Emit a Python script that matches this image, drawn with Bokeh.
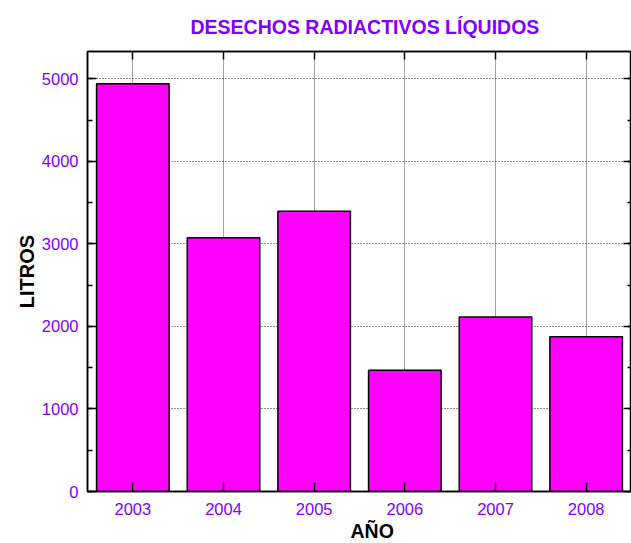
from bokeh.plotting import figure
from bokeh.models import (ColumnDataSource, FactorRange, Range1d, CategoricalAxis,
                          LinearAxis, SingleIntervalTicker, Title)
from bokeh.embed import file_html
from bokeh.resources import INLINE

# ---- data ----
years = ["2003", "2004", "2005", "2006", "2007", "2008"]
litros = [4940, 3075, 3395, 1470, 2115, 1875]
y_max = 5330
y_tick_interval = 1000

title_text = "DESECHOS RADIACTIVOS LÍQUIDOS"
x_label = "AÑO"
y_label = "LITROS"

PURPLE = "#8000ff"
FONT = "Liberation Sans"

src = ColumnDataSource(dict(year=years, litros=litros))

p = figure(x_range=FactorRange(factors=years), y_range=Range1d(0, y_max),
           width=631, height=543, output_backend="svg", toolbar_location=None,
           min_border_left=87, min_border_right=0, min_border_top=50, min_border_bottom=52)

p.background_fill_color = "white"
p.border_fill_color = "white"
p.outline_line_color = "black"
p.outline_line_width = 1.5

# title
p.title.text = title_text
p.title.align = "left"
p.title.offset = 103
p.title.text_font = FONT
p.title.text_font_size = "19.5px"
p.title.text_font_style = "bold"
p.title.text_color = PURPLE
p.title.standoff = 27

# bars
p.vbar(x="year", top="litros", width=0.8, source=src,
       fill_color="#ff00ff", line_color="black", line_width=1.5)

# grids
p.xgrid.grid_line_color = "#444444"
p.xgrid.grid_line_dash = "1 1"
p.xgrid.grid_line_width = 1
p.ygrid.ticker = SingleIntervalTicker(interval=y_tick_interval)
p.ygrid.grid_line_color = "#222222"
p.ygrid.grid_line_dash = "1 2"
p.ygrid.grid_line_width = 1

# bottom axis
xa = p.xaxis[0]
xa.major_tick_in = 9
xa.major_tick_out = 0
xa.axis_line_width = 1.5
xa.major_tick_line_width = 1.5
xa.major_label_text_font = FONT
xa.major_label_text_font_size = "16.5px"
xa.major_label_text_color = PURPLE
xa.major_label_standoff = 11

# left axis
ya = p.yaxis[0]
ya.ticker = SingleIntervalTicker(interval=y_tick_interval, num_minor_ticks=2)
ya.major_tick_in = 9
ya.major_tick_out = 0
ya.minor_tick_in = 5
ya.minor_tick_out = 0
ya.axis_line_width = 1.5
ya.major_tick_line_width = 1.5
ya.minor_tick_line_width = 1.5
ya.major_label_text_font = FONT
ya.major_label_text_font_size = "16.5px"
ya.major_label_text_color = PURPLE
ya.major_label_standoff = 9
ya.axis_label = y_label
ya.axis_label_text_font = FONT
ya.axis_label_text_font_size = "20px"
ya.axis_label_text_font_style = "bold"
ya.axis_label_text_color = "black"
ya.axis_label_standoff = 1

# top axis (ticks only, labels not drawn)
ta = CategoricalAxis(major_tick_in=8, major_tick_out=0, axis_line_width=1.5,
                     major_tick_line_width=1.5, major_label_text_font_size="1px",
                     major_label_text_color=None, major_label_standoff=0)
p.add_layout(ta, "above")

# right axis (ticks only, labels not drawn)
ra = LinearAxis(ticker=SingleIntervalTicker(interval=y_tick_interval, num_minor_ticks=2),
                major_tick_in=8, major_tick_out=0, minor_tick_in=4, minor_tick_out=0,
                axis_line_width=1.5, major_tick_line_width=1.5, minor_tick_line_width=1.5,
                major_label_text_font_size="1px", major_label_text_color=None,
                major_label_standoff=0)
p.add_layout(ra, "right")

# x axis label
xl = Title(text=x_label, align="left", offset=263, text_font=FONT,
           text_font_size="19.5px", text_font_style="bold", text_color="black",
           standoff=0)
p.add_layout(xl, "below")

open("out.html", "w").write(file_html(p, INLINE))
